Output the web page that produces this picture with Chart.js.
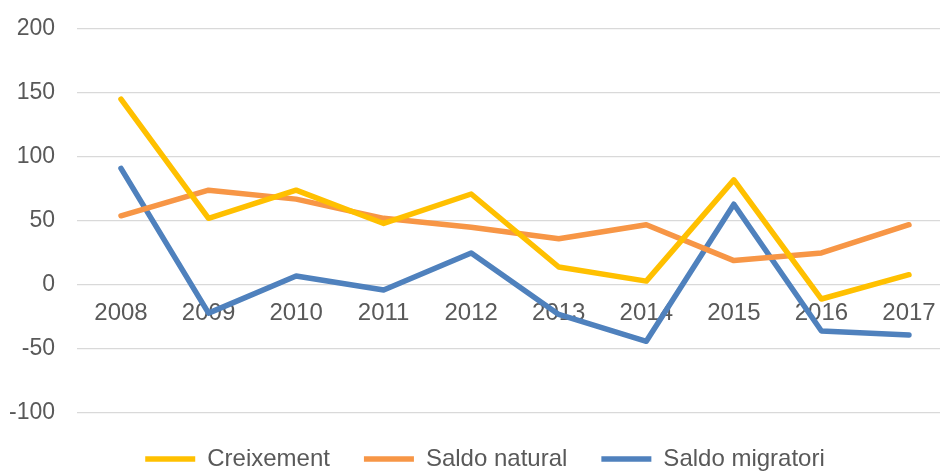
<!DOCTYPE html>
<html>
<head>
<meta charset="utf-8">
<script src="https://cdn.jsdelivr.net/npm/chart.js@4.4.1/dist/chart.umd.min.js"></script>
<style>
  html, body { margin: 0; padding: 0; background: #fff; overflow: hidden; }
  #wrap { width: 940px; height: 471px; overflow: hidden; position: relative; }
  canvas { display: block; position: absolute; left: 0; top: -7px; }
</style>
</head>
<body>
<div id="wrap"><canvas id="c" width="970" height="488"></canvas></div>
<script>
const years = [2008, 2009, 2010, 2011, 2012, 2013, 2014, 2015, 2016, 2017];
const creixement = [145, 52, 74, 48, 71, 14, 3, 82, -11, 8];
const saldoNatural = [54, 74, 67, 52, 45, 36, 47, 19, 25, 47];
const saldoMigratori = [91, -22, 7, -4, 25, -23, -44, 63, -36, -39];
const seriesNames = ['Creixement', 'Saldo natural', 'Saldo migratori'];
const yTicks = [-100, -50, 0, 50, 100, 150, 200];

const colors = ['#FFC000', '#F79646', '#4F81BD'];
const textColor = '#595959';
const font = 'Liberation Sans, Arial, sans-serif';

function toPoints(vals) { return vals.map((v, i) => ({ x: years[i], y: v })); }

const datasets = [creixement, saldoNatural, saldoMigratori].map((vals, i) => ({
  label: seriesNames[i],
  data: toPoints(vals),
  borderColor: colors[i],
  backgroundColor: colors[i],
  borderWidth: 5.5,
  pointRadius: 0,
  pointHoverRadius: 0,
  tension: 0,
  borderCapStyle: 'round',
  borderJoinStyle: 'round',
  fill: false
}));

new Chart(document.getElementById('c'), {
  type: 'line',
  data: { datasets },
  options: {
    responsive: false,
    animation: false,
    layout: { padding: { left: 0, right: 0, top: 0, bottom: 0 } },
    plugins: {
      tooltip: { enabled: false },
      legend: {
        position: 'bottom',
        labels: {
          color: textColor,
          font: { family: font, size: 24 },
          usePointStyle: true,
          pointStyle: 'line',
          pointStyleWidth: 50,
          padding: 34
        }
      }
    },
    scales: {
      x: {
        type: 'linear',
        position: { y: 0 },
        min: 2007.4975,
        max: 2017.697,
        afterBuildTicks: (scale) => { scale.ticks = years.map(v => ({ value: v })); },
        afterFit: (scale) => { scale.height = 0; },
        grid: { display: false, drawTicks: false },
        border: { display: false },
        ticks: {
          color: textColor,
          font: { family: font, size: 24 },
          padding: 14,
          maxRotation: 0,
          autoSkip: false,
          callback: (v) => String(v)
        }
      },
      y: {
        min: -100,
        max: 200,
        afterBuildTicks: (scale) => { scale.ticks = yTicks.map(v => ({ value: v })); },
        afterFit: (scale) => { scale.width = 77; },
        grid: { color: '#D9D9D9', lineWidth: 1.3, drawTicks: false },
        border: { display: false },
        ticks: {
          color: textColor,
          font: { family: font, size: 23 },
          padding: 22,
          callback: (v) => String(v)
        }
      }
    }
  }
});
</script>
</body>
</html>
